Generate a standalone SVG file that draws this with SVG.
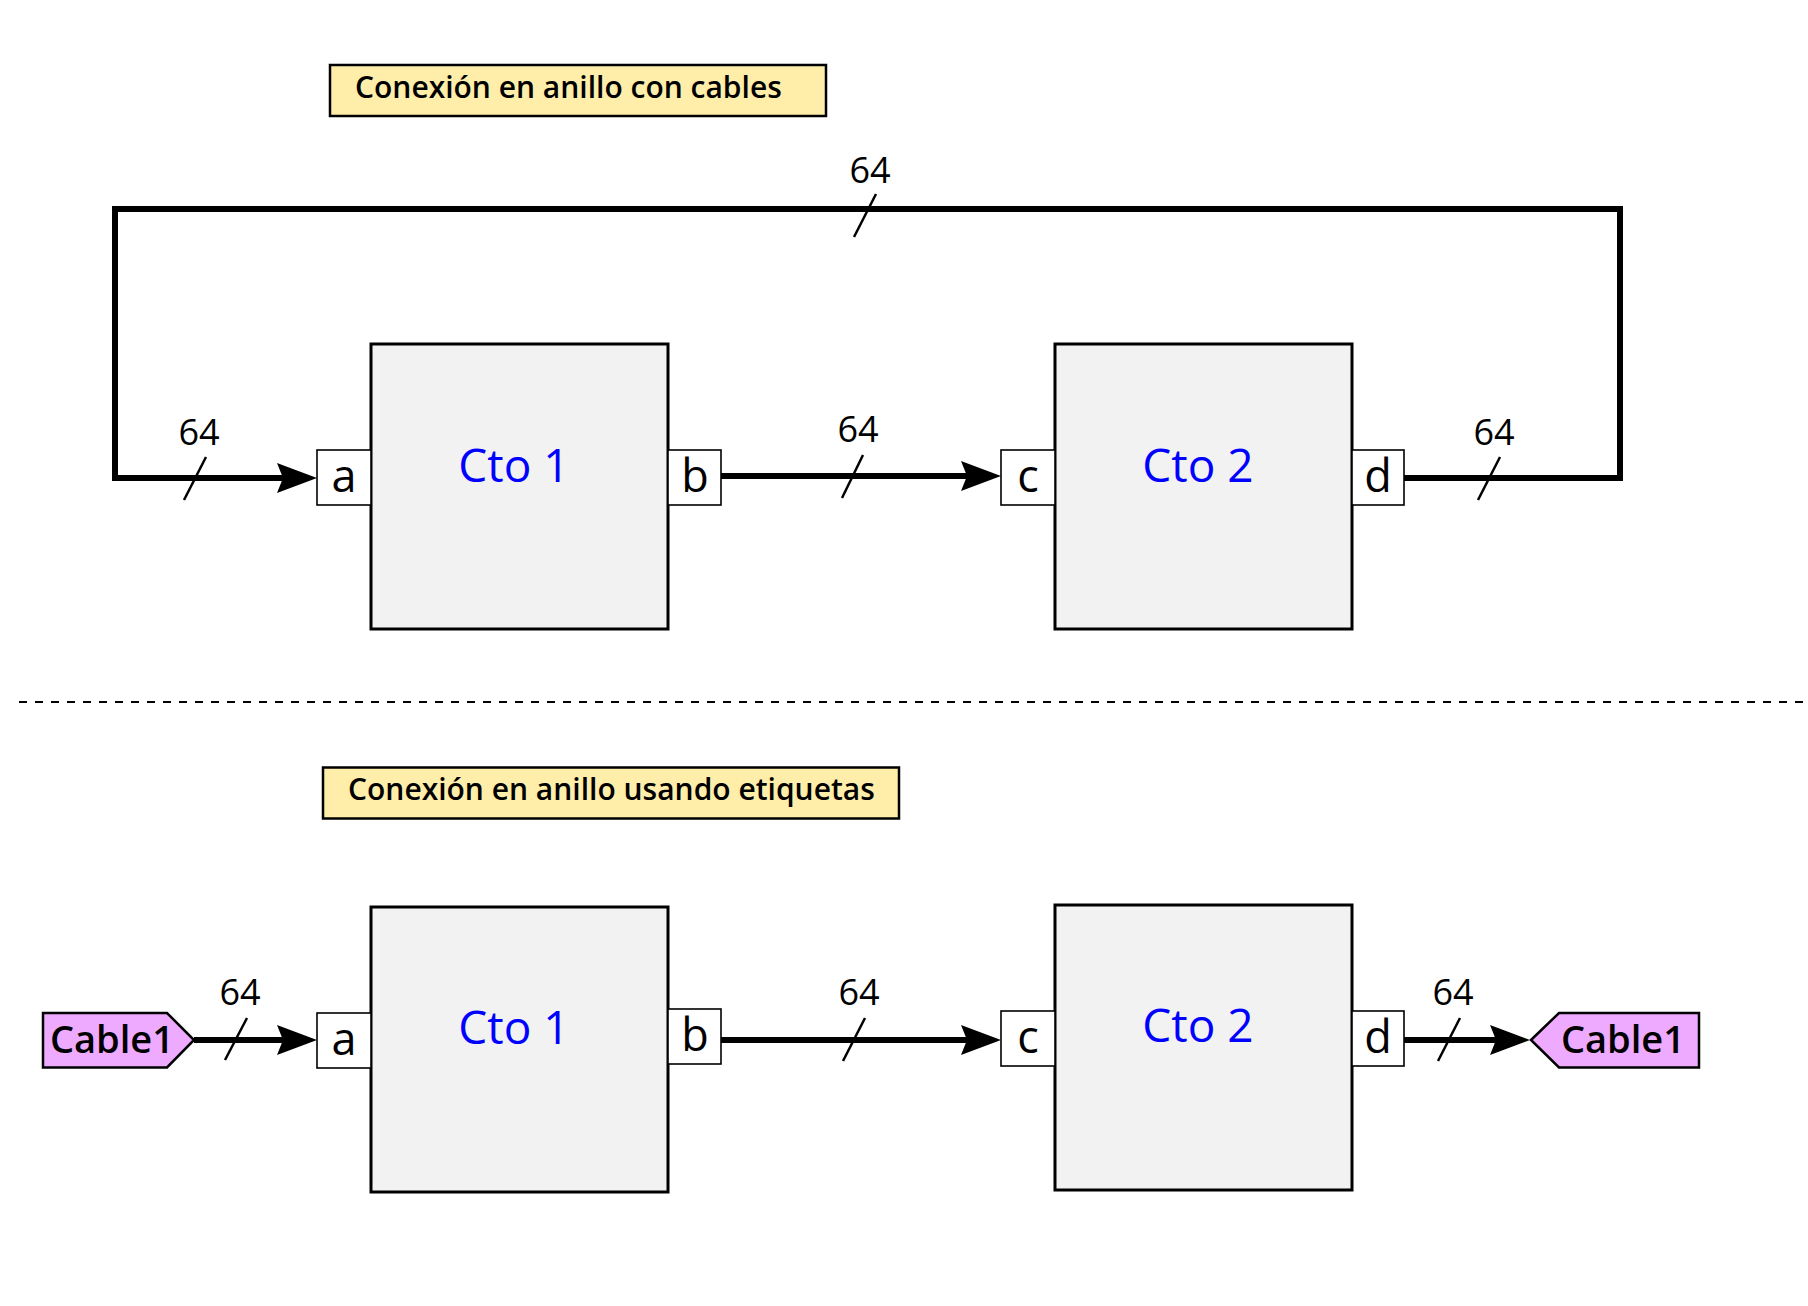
<svg xmlns="http://www.w3.org/2000/svg" width="1808" height="1306" viewBox="0 0 1808 1306">
<style>
  text { font-family: "Open Sans", "Noto Sans", "DejaVu Sans", sans-serif; fill: #000; }
  .title rect { fill: #ffeeaa; stroke: #000; stroke-width: 2.5; }
  .title text { font-size: 30px; font-weight: 600; }
  .block rect { fill: #f2f2f2; stroke: #000; stroke-width: 3; }
  .block text { font-size: 46px; fill: #0000ff; text-anchor: middle; }
  .port rect { fill: #ffffff; stroke: #000; stroke-width: 1.6; }
  .port text { font-size: 45px; text-anchor: middle; }
  .tag polygon { fill: #eeaaff; stroke: #000; stroke-width: 2.5; stroke-linejoin: miter; }
  .tag text { font-size: 38px; font-weight: 600; text-anchor: middle; }
  .wire { fill: none; stroke: #000; stroke-width: 6; stroke-linejoin: miter; }
  .arrow { marker-end: url(#arrow); }
  .slash { stroke: #000; stroke-width: 2.5; }
  .bus { font-size: 36px; text-anchor: middle; }
  .sep { stroke: #000; stroke-width: 2; stroke-dasharray: 8 8; }
</style>
<defs>
  <marker id="arrow" markerUnits="userSpaceOnUse" viewBox="-12 -16 44 32" markerWidth="44" markerHeight="32" refX="0" refY="0" orient="auto">
    <path d="M30,0 L-10,-15 L-4,0 L-10,15 Z" fill="#000"/>
  </marker>
</defs>
<rect x="0" y="0" width="1808" height="1306" fill="#ffffff"/>

<!-- Top section -->
<g id="title-top" class="title">
  <rect x="330" y="65" width="496" height="51"/>
  <text x="355" y="98">Conexión en anillo con cables</text>
</g>

<g id="cto1-top" class="block">
  <rect x="371" y="344" width="297" height="285"/>
  <text x="514" y="482">Cto 1</text>
</g>
<g id="cto2-top" class="block">
  <rect x="1055" y="344" width="297" height="285"/>
  <text x="1198" y="482">Cto 2</text>
</g>
<g id="port-a-top" class="port">
  <rect x="317" y="450" width="54" height="55"/>
  <text x="344" y="492">a</text>
</g>
<g id="port-b-top" class="port">
  <rect x="668" y="450" width="53" height="55"/>
  <text x="695" y="492">b</text>
</g>
<g id="port-c-top" class="port">
  <rect x="1001" y="450" width="54" height="55"/>
  <text x="1028" y="492">c</text>
</g>
<g id="port-d-top" class="port">
  <rect x="1352" y="450" width="52" height="55"/>
  <text x="1378" y="492">d</text>
</g>

<!-- Separator -->
<line class="sep" x1="19" y1="702" x2="1808" y2="702"/>

<!-- Bottom section -->
<g id="title-bottom" class="title">
  <rect x="323" y="767.5" width="576" height="51"/>
  <text x="348" y="800">Conexión en anillo usando etiquetas</text>
</g>

<g id="cto1-bottom" class="block">
  <rect x="371" y="907" width="297" height="285"/>
  <text x="514" y="1044">Cto 1</text>
</g>
<g id="cto2-bottom" class="block">
  <rect x="1055" y="905" width="297" height="285"/>
  <text x="1198" y="1042">Cto 2</text>
</g>
<g id="port-a-bottom" class="port">
  <rect x="317" y="1013" width="54" height="55"/>
  <text x="344" y="1055">a</text>
</g>
<g id="port-b-bottom" class="port">
  <rect x="668" y="1009" width="53" height="55"/>
  <text x="695" y="1051">b</text>
</g>
<g id="port-c-bottom" class="port">
  <rect x="1001" y="1011" width="54" height="55"/>
  <text x="1028" y="1053">c</text>
</g>
<g id="port-d-bottom" class="port">
  <rect x="1352" y="1011" width="52" height="55"/>
  <text x="1378" y="1053">d</text>
</g>

<g id="tag-cable1-left" class="tag">
  <polygon points="43,1013 167,1013 194,1040 167,1067.5 43,1067.5"/>
  <text x="112" y="1053">Cable1</text>
</g>
<g id="tag-cable1-right" class="tag">
  <polygon points="1531,1040 1559,1013 1699,1013 1699,1067.5 1559,1067.5"/>
  <text x="1623" y="1053">Cable1</text>
</g>

<!-- Connectors -->
<g id="connectors">
  <path class="wire arrow" d="M1404,478 H1620 V209 H115 V478 H287"/>
  <path class="wire arrow" d="M721,476 H971"/>
  <path class="wire arrow" d="M194,1040 H287"/>
  <path class="wire arrow" d="M721,1040 H971"/>
  <path class="wire arrow" d="M1404,1040 H1500"/>

  <line class="slash" x1="206" y1="457" x2="184" y2="500"/>
  <line class="slash" x1="863" y1="455" x2="842" y2="498"/>
  <line class="slash" x1="876" y1="194" x2="854" y2="237"/>
  <line class="slash" x1="1500" y1="457" x2="1478" y2="500"/>
  <line class="slash" x1="247" y1="1018" x2="225" y2="1060"/>
  <line class="slash" x1="865" y1="1018" x2="843" y2="1061"/>
  <line class="slash" x1="1460" y1="1018" x2="1438" y2="1061"/>

  <text class="bus" x="199" y="445">64</text>
  <text class="bus" x="858" y="442">64</text>
  <text class="bus" x="870" y="183">64</text>
  <text class="bus" x="1494" y="445">64</text>
  <text class="bus" x="240" y="1005">64</text>
  <text class="bus" x="859" y="1005">64</text>
  <text class="bus" x="1453" y="1005">64</text>
</g>
</svg>
